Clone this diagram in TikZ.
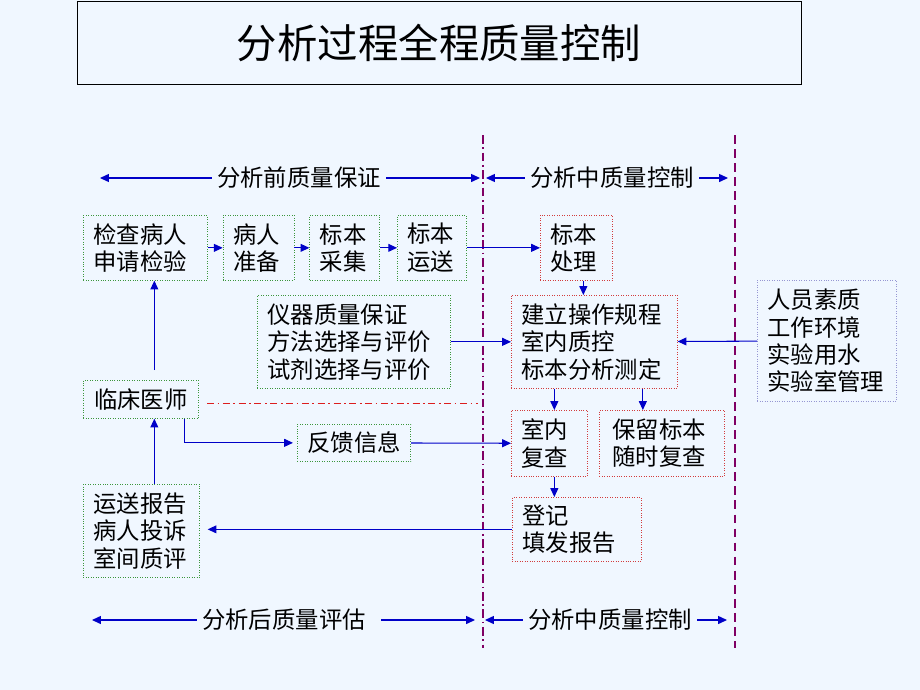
\documentclass[tikz,border=0pt]{standalone}
\usepackage{fontspec}
\setmainfont{Noto Sans CJK SC}
\usetikzlibrary{positioning, arrows.meta}

\definecolor{bgblue}{RGB}{240,247,255}
\definecolor{boxgreen}{RGB}{60,150,60}
\definecolor{boxred}{RGB}{210,60,60}
\definecolor{boxblue}{RGB}{150,150,210}
\definecolor{arrowblue}{RGB}{0,0,200}
\definecolor{splitpurple}{RGB}{128,0,100}
\definecolor{cutred}{RGB}{220,30,30}

\begin{document}
\begin{tikzpicture}[
    x=0.02cm, y=-0.02cm,  % one unit = one pixel of the slide
    font=\fontsize{13.3}{15.6}\selectfont,
    % Styles
    prebox/.style={draw=boxgreen, densely dotted, fill=bgblue, anchor=north west, align=left, inner xsep=0.2cm, inner ysep=0pt},
    midbox/.style={draw=boxred, densely dotted, fill=bgblue, anchor=north west, align=left, inner xsep=0.2cm, inner ysep=0pt},
    sidebox/.style={draw=boxblue, densely dotted, fill=bgblue, anchor=north west, align=left, inner xsep=0.2cm, inner ysep=0pt},
    heading/.style={inner xsep=0.1cm, inner ysep=0pt},
    arrow/.style={-{Triangle[length=5pt,width=4.5pt]}, arrowblue, line width=0.6pt},
    splitline/.style={splitpurple, line width=0.6pt},
]

% Slide background
\fill[bgblue] (0,0) rectangle (920,690);

% Title
\node[draw=black, fill=bgblue, minimum width=14.48cm, minimum height=1.66cm, font=\fontsize{23}{28}\selectfont] (title) at (439,42.5) {分析过程全程质量控制};

% Phase borders
\draw[splitline, dash pattern=on 5pt off 2pt on 1pt off 2pt] (483,135) -- (483,648);
\draw[splitline, dash pattern=on 5pt off 3pt] (735,135) -- (735,648);

% Phase headings, top
\node[heading] (preH) at (299,178) {分析前质量保证};
\node[heading] (midH) at (612,178) {分析中质量控制};
\coordinate (preL) at (100,178);
\coordinate (preR) at (480,178);
\coordinate (midL) at (486,178);
\coordinate (midR) at (728,178);
\draw[arrow] (preH.west) -- (preL);
\draw[arrow] (preH.east) -- (preR);
\draw[arrow] (midH.west) -- (midL);
\draw[arrow] (midH.east) -- (midR);

% Pre-analytical chain
\node[prebox, text width=2.08cm, minimum height=1.3cm] (chk) at (83,215) {检查病人\\申请检验};
\node[prebox, text width=1.02cm, minimum height=1.3cm, right=0.3cm of chk] (prep) {病人\\准备};
\node[prebox, text width=1.0cm, minimum height=1.3cm, right=0.3cm of prep] (coll) {标本\\采集};
\node[prebox, text width=0.98cm, minimum height=1.3cm, right=0.34cm of coll] (trans) {标本\\运送};
\draw[arrow] (chk) -- (prep);
\draw[arrow] (prep) -- (coll);
\draw[arrow] (coll) -- (trans);

% Analytical part
\node[midbox, text width=1.04cm, minimum height=1.3cm] (proc) at (540,215) {标本\\处理};
\draw[arrow] (trans) -- (proc);

\node[midbox, text width=2.92cm, minimum height=1.86cm] (sop) at (511,295) {建立操作规程\\室内质控\\标本分析测定};
\draw[arrow] ([xshift=0.14cm]proc.south) -- ([xshift=0.14cm]proc.south |- sop.north);

\node[prebox, text width=3.46cm, minimum height=1.86cm] (inst) at (257,295) {仪器质量保证\\方法选择与评价\\试剂选择与评价};
\draw[arrow] (inst) -- (sop);

\node[sidebox, text width=2.38cm, minimum height=2.42cm] (staff) at (757,280) {人员素质\\工作环境\\实验用水\\实验室管理};
\draw[arrow] (staff) -- (sop);

\node[midbox, text width=1.12cm, minimum height=1.32cm] (recheck) at (511,410) {室内\\复查};
\node[midbox, text width=1.98cm, inner xsep=0.26cm, minimum height=1.32cm] (keep) at (599,410) {保留标本\\随时复查};
\draw[arrow] ([xshift=0.1cm]recheck.north |- sop.south) -- ([xshift=0.1cm]recheck.north);
\draw[arrow] ([xshift=-0.38cm]keep.north |- sop.south) -- ([xshift=-0.38cm]keep.north);

\node[midbox, text width=2.18cm, minimum height=1.28cm] (report) at (512,497) {登记\\填发报告};
\draw[arrow] ([xshift=0.1cm]recheck.south) -- ([xshift=0.1cm]recheck.south |- report.north);

% Clinician loop
\node[prebox, minimum width=2.3cm, minimum height=0.76cm] (doc) at (83,380) {临床医师};
\draw[arrow] ([xshift=0.27cm,yshift=0.2cm]doc.north) -- ([xshift=0.27cm]doc.north |- chk.south);

\node[prebox, minimum width=2.24cm, minimum height=0.74cm] (fb) at (297,424) {反馈信息};
\draw[arrow, shorten >=0.08cm] ([xshift=0.87cm]doc.south) |- (fb.west);
\draw[arrow] (fb) -- (recheck);

\draw[cutred, line width=0.5pt, dash pattern=on 4pt off 2pt on 1pt off 2pt] (207,403) -- (478,403);

\node[prebox, text width=1.92cm, minimum height=1.86cm] (fbk) at (83,484) {运送报告\\病人投诉\\室间质评};
\draw[arrow, shorten >=0.16cm] (report.west) -- (report.west -| fbk.east);
\draw[arrow] ([xshift=0.26cm]fbk.north) -- ([xshift=0.26cm]fbk.north |- doc.south);

% Phase headings, bottom
\node[heading] (postH) at (284,620) {分析后质量评估};
\node[heading] (midB) at (610,620) {分析中质量控制};
\coordinate (postL) at (92,620);
\coordinate (postR) at (475,620);
\coordinate (midBL) at (485,620);
\coordinate (midBR) at (727,620);
\draw[arrow] (postH.west) -- (postL);
\draw[arrow, shorten <=0.2cm] (postH.east) -- (postR);
\draw[arrow] (midB.west) -- (midBL);
\draw[arrow] (midB.east) -- (midBR);

\end{tikzpicture}
\end{document}
